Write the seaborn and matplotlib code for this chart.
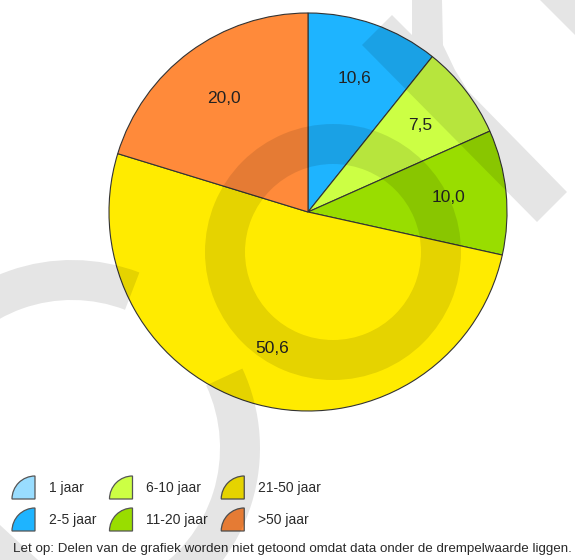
import numpy as np
import pandas as pd
import matplotlib
matplotlib.use("Agg")
import matplotlib.pyplot as plt
import seaborn as sns
from matplotlib.patches import Wedge, Polygon, Patch
from matplotlib.legend_handler import HandlerPatch
from matplotlib import font_manager as fm

# ---------------- data ----------------
categories = ["1 jaar", "2-5 jaar", "6-10 jaar", "11-20 jaar", "21-50 jaar", ">50 jaar"]
values = [np.nan, 10.6, 7.5, 10.0, 50.6, 20.0]   # "1 jaar" below threshold -> not shown
colors = ["#99DDFF", "#1EB4FF", "#CCFF44", "#99DD00", "#FFEB00", "#FF8A3A"]
note = "Let op: Delen van de grafiek worden niet getoond omdat data onder de drempelwaarde liggen."

# ---------------- style ----------------
sns.set_theme(style="white")
names = {f.name for f in fm.fontManager.ttflist}
plt.rcParams["font.family"] = ["Liberation Sans", "DejaVu Sans"]
if "Liberation Sans Narrow" in names:
    fam = ["Liberation Sans Narrow", "DejaVu Sans"]
    leg_size, note_size = 12, 11.8
else:
    fam = ["Liberation Sans", "DejaVu Sans"]
    leg_size, note_size = 10, 9.6

W, H = 575, 560
fig = plt.figure(figsize=(W / 100, H / 100), dpi=100)
fig.patch.set_facecolor("white")

# ---------------- pie ----------------
cx, cy, R = 308, 212, 199
ax = fig.add_axes([(cx - R) / W, (H - cy - R) / H, 2 * R / W, 2 * R / H])
df = pd.DataFrame({"cat": categories, "val": values, "color": colors})
shown = df.dropna()
labels = [f"{v:.1f}".replace(".", ",") for v in shown["val"]]
wedges, texts = ax.pie(
    shown["val"], colors=shown["color"], labels=labels, labeldistance=0.71,
    startangle=90, counterclock=False,
    wedgeprops=dict(edgecolor="#333333", linewidth=0.8),
    textprops=dict(ha="center", va="center", fontsize=12.5, color="#222222"),
)
ax.set_xlim(-1, 1)
ax.set_ylim(-1, 1)
ax.set_aspect("equal")
ax.axis("off")
for w in wedges:
    w.set_clip_on(False)

# ---------------- legend ----------------
def make_quarter(legend, orig_handle, xdescent, ydescent, width, height, fontsize):
    r = min(width, height)
    return Wedge((width - xdescent, -ydescent), r, 90, 180)

px = leg_size * 100 / 72.0          # font size in pixels
icon = 23 / px                      # icon size in font units
hh = (icon - 0.245) / 0.65          # handleheight giving a box of `icon` height
handles = [Patch(facecolor=c, edgecolor="#555555", linewidth=0.9) for c in df["color"]]
leg = fig.legend(
    handles, categories, loc="upper left", bbox_to_anchor=(12 / W, 1 - 476 / H),
    ncol=3, frameon=False, borderpad=0, borderaxespad=0,
    handlelength=icon, handleheight=hh, handletextpad=14 / px,
    columnspacing=13 / px, labelspacing=9 / px,
    prop=dict(family=fam, size=leg_size), labelcolor="#2a2a2a",
    handler_map={Patch: HandlerPatch(patch_func=make_quarter)},
)

fig.text(13 / W, 1 - 549 / H, note, ha="left", va="center", color="#2a2a2a",
         family=fam, fontsize=note_size)

# ---------------- watermark (decorative overlay) ----------------
ov = fig.add_axes([0, 0, 1, 1], zorder=10)
ov.set_xlim(0, W)
ov.set_ylim(H, 0)
ov.axis("off")
ov.patch.set_alpha(0)
wm = dict(facecolor="black", alpha=0.1, edgecolor="none")
ov.add_patch(Wedge((333, 252), 128, 0, 360, width=40, **wm))
ov.add_patch(Polygon([(362, 45), (392, 15), (412, 35), (412, 0), (442, 0), (443, 45),
                      (455, 70), (468, 91), (567, 192), (537, 222)], closed=True, **wm))
ov.add_patch(Polygon([(540, 0), (575, 0), (575, 35)], closed=True, **wm))
ov.add_patch(Wedge((72, 448), 188, -150, -69, width=40, **wm))
ov.add_patch(Wedge((72, 448), 188, -25, 60, width=40, **wm))
ov.add_patch(Polygon([(0, 525), (0, 560), (38, 560)], closed=True, **wm))

fig.savefig("out.png", dpi=100)
